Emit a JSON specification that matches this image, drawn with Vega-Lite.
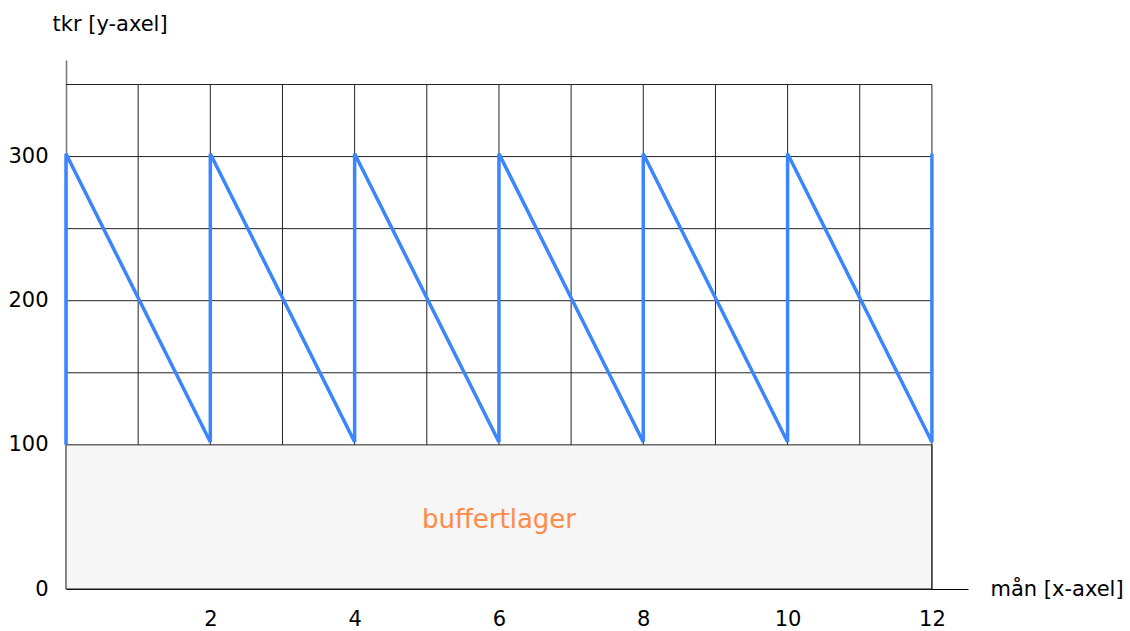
{
  "$schema": "https://vega.github.io/schema/vega-lite/v6.json",
  "width": 902,
  "height": 529,
  "autosize": "none",
  "padding": {"left": 66, "top": 60, "right": 162, "bottom": 42},
  "background": "white",
  "config": {
    "view": {"stroke": null},
    "font": "DejaVu Sans"
  },
  "datasets": {
    "saw": [
      {"x": 0, "y": 100, "o": 1},
      {"x": 0, "y": 302, "o": 2},
      {"x": 2, "y": 102, "o": 3},
      {"x": 2, "y": 302, "o": 4},
      {"x": 4, "y": 102, "o": 5},
      {"x": 4, "y": 302, "o": 6},
      {"x": 6, "y": 102, "o": 7},
      {"x": 6, "y": 302, "o": 8},
      {"x": 8, "y": 102, "o": 9},
      {"x": 8, "y": 302, "o": 10},
      {"x": 10, "y": 102, "o": 11},
      {"x": 10, "y": 302, "o": 12},
      {"x": 12, "y": 102, "o": 13},
      {"x": 12, "y": 302, "o": 14}
    ],
    "grid": [
      {"x": 1, "x2": 1, "y": 100, "y2": 350},
      {"x": 2, "x2": 2, "y": 100, "y2": 350},
      {"x": 3, "x2": 3, "y": 100, "y2": 350},
      {"x": 4, "x2": 4, "y": 100, "y2": 350},
      {"x": 5, "x2": 5, "y": 100, "y2": 350},
      {"x": 6, "x2": 6, "y": 100, "y2": 350},
      {"x": 7, "x2": 7, "y": 100, "y2": 350},
      {"x": 8, "x2": 8, "y": 100, "y2": 350},
      {"x": 9, "x2": 9, "y": 100, "y2": 350},
      {"x": 10, "x2": 10, "y": 100, "y2": 350},
      {"x": 11, "x2": 11, "y": 100, "y2": 350},
      {"x": 12, "x2": 12, "y": 0, "y2": 350},
      {"x": 0, "x2": 12, "y": 150, "y2": 150},
      {"x": 0, "x2": 12, "y": 200, "y2": 200},
      {"x": 0, "x2": 12, "y": 250, "y2": 250},
      {"x": 0, "x2": 12, "y": 300, "y2": 300},
      {"x": 0, "x2": 12, "y": 350, "y2": 350}
    ],
    "buffer": [
      {"x": 0, "x2": 12, "y": 0, "y2": 100, "label": "buffertlager", "lx": 6, "ly": 48}
    ]
  },
  "layer": [
    {
      "data": {"name": "buffer"},
      "mark": {"type": "rect", "fill": "#f6f6f6", "stroke": "#222222", "strokeWidth": 1},
      "encoding": {
        "x": {
          "field": "x", "type": "quantitative",
          "scale": {"domain": [0, 12.5], "nice": false, "zero": false},
          "axis": {
            "values": [2, 4, 6, 8, 10, 12],
            "format": "d",
            "ticks": false, "grid": false,
            "domainColor": "#000000", "domainWidth": 1,
            "labelFontSize": 21, "labelColor": "#000000", "labelPadding": 19,
            "labelFont": "DejaVu Sans",
            "title": "mån [x-axel]",
            "titleFont": "DejaVu Sans", "titleFontSize": 21, "titleFontWeight": "normal",
            "titleColor": "#000000",
            "titleAlign": "left", "titleBaseline": "middle",
            "titleX": 924, "titleY": 0
          }
        },
        "x2": {"field": "x2"},
        "y": {
          "field": "y", "type": "quantitative",
          "scale": {"domain": [0, 367], "nice": false, "zero": false},
          "axis": {
            "values": [0, 100, 200, 300],
            "format": "d",
            "ticks": false, "grid": false,
            "domainColor": "#777777", "domainWidth": 1.5,
            "labelFontSize": 21, "labelColor": "#000000", "labelPadding": 18,
            "labelFont": "DejaVu Sans",
            "title": "tkr [y-axel]",
            "titleFont": "DejaVu Sans", "titleFontSize": 21, "titleFontWeight": "normal",
            "titleColor": "#000000", "titleAngle": 0,
            "titleAlign": "left", "titleBaseline": "middle",
            "titleX": -14, "titleY": -36
          }
        },
        "y2": {"field": "y2"}
      }
    },
    {
      "data": {"name": "buffer"},
      "mark": {"type": "text", "color": "#ff8a4a", "fontSize": 26, "font": "DejaVu Sans", "align": "center", "baseline": "middle"},
      "encoding": {
        "x": {"field": "lx", "type": "quantitative"},
        "y": {"field": "ly", "type": "quantitative"},
        "text": {"field": "label"}
      }
    },
    {
      "data": {"name": "grid"},
      "mark": {"type": "rule", "color": "#222222", "strokeWidth": 1},
      "encoding": {
        "x": {"field": "x", "type": "quantitative"},
        "x2": {"field": "x2"},
        "y": {"field": "y", "type": "quantitative"},
        "y2": {"field": "y2"}
      }
    },
    {
      "data": {"name": "saw"},
      "mark": {"type": "line", "color": "#3b86ff", "strokeWidth": 3.5, "strokeJoin": "miter"},
      "encoding": {
        "x": {"field": "x", "type": "quantitative"},
        "y": {"field": "y", "type": "quantitative"},
        "order": {"field": "o", "type": "quantitative"}
      }
    }
  ]
}
